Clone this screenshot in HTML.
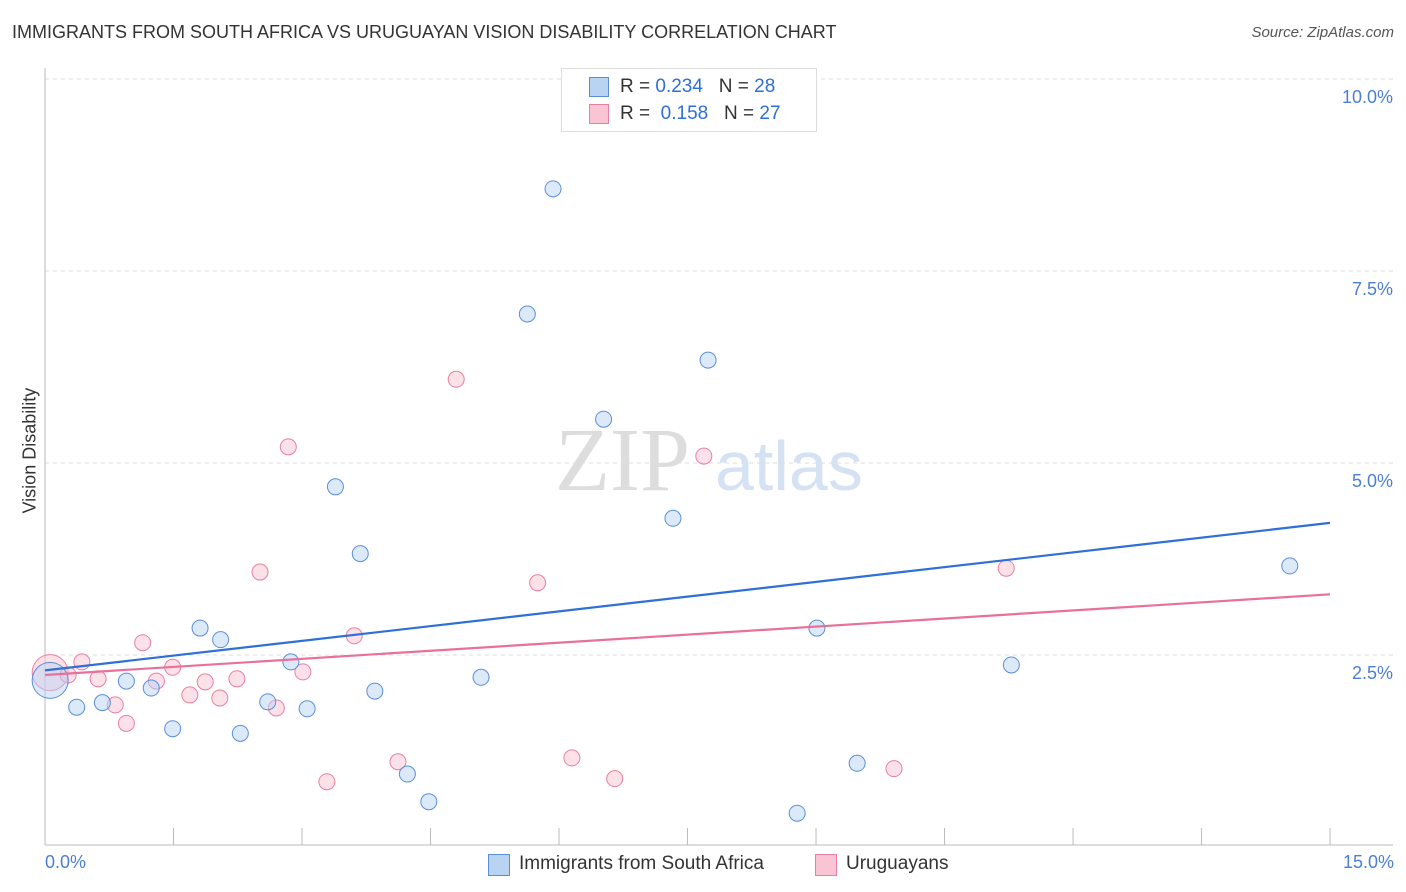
<!DOCTYPE html>
<html><head><meta charset="utf-8">
<style>
body{margin:0;background:#fff;font-family:"Liberation Sans",sans-serif;}
#c{position:absolute;left:0;top:0;}
.t{position:absolute;white-space:nowrap;}
</style></head>
<body>
<div class="t" style="left:12px;top:22px;font-size:18px;color:#333;">IMMIGRANTS FROM SOUTH AFRICA VS URUGUAYAN VISION DISABILITY CORRELATION CHART</div>
<div class="t" style="right:12px;top:24px;font-size:15px;color:#555;font-style:italic;">Source: ZipAtlas.com</div>
<svg id="c" width="1406" height="892"></svg>
<script>
const blueX=[0.06,0.37,0.67,0.95,1.24,1.49,1.81,2.05,2.28,2.60,2.87,3.06,3.39,3.68,3.85,4.23,4.48,5.09,5.63,5.93,6.52,7.33,7.74,8.78,9.01,9.48,11.28,14.53];
const blueY=[2.17,1.82,1.88,2.16,2.07,1.54,2.85,2.70,1.48,1.89,2.41,1.80,4.69,3.82,2.03,0.95,0.59,2.21,6.94,8.57,5.57,4.28,6.34,0.44,2.85,1.09,2.37,3.66];
const pinkX=[0.06,0.27,0.43,0.62,0.82,0.95,1.14,1.30,1.49,1.69,1.87,2.04,2.24,2.51,2.70,2.84,3.01,3.29,3.61,4.12,4.80,5.75,6.15,6.65,7.69,9.91,11.22];
const pinkY=[2.27,2.24,2.41,2.19,1.85,1.61,2.66,2.16,2.34,1.98,2.15,1.94,2.19,3.58,1.81,5.21,2.28,0.85,2.75,1.11,6.09,3.44,1.16,0.89,5.09,1.02,3.63];
const blueTrend=[2.30,4.22];
const pinkTrend=[2.24,3.29];
const yTicks=[2.5,5.0,7.5,10.0];
const xTickVals=[1.5,3,4.5,6,7.5,9,10.5,12,13.5,15];
const NS='http://www.w3.org/2000/svg';
const svg=document.getElementById('c');
const X=v=>45+v*85.67;
const Y=v=>847-v*76.8;
function el(tag,a){const e=document.createElementNS(NS,tag);for(const k in a)e.setAttribute(k,a[k]);svg.appendChild(e);return e;}
// watermark
let w=el('text',{x:555,y:490,'font-size':90,fill:'#ddd','font-family':'Liberation Serif'});w.textContent='ZIP';


let w2=el('text',{x:715,y:490,'font-size':70,fill:'#d4e2f4','font-family':'Liberation Sans'});w2.textContent='atlas';


yTicks.forEach(v=>{
 let g=el('line',{x1:45,x2:1393,y1:Y(v),y2:Y(v),stroke:'#ddd','stroke-dasharray':'4,4'});
 
 
 let t=el('text',{x:1393,y:Y(v)+24,'text-anchor':'end','font-size':18,fill:'#4a7fd4'});t.textContent=v.toFixed(1)+'%';
 
 
});
let ax=el('line',{x1:45,x2:45,y1:68,y2:845,stroke:'#bbb'});


let bx=el('line',{x1:45,x2:1393,y1:845,y2:845,stroke:'#bbb'});


xTickVals.forEach(v=>{let l=el('line',{x1:X(v),x2:X(v),y1:828,y2:845,stroke:'#bbb'});
 
 });
function pts(xs,ys,fill,stroke,name){xs.forEach((x,i)=>{let c=el('circle',{cx:X(x),cy:Y(ys[i]),r:i===0?18:8,fill:fill,stroke:stroke,'stroke-width':1,'fill-opacity':0.5});
 
 });}
pts(pinkX,pinkY,'#f9c4d4','#e87fa3','uruguayan-point');
pts(blueX,blueY,'#b9d3f3','#5a8fd8','south-africa-point');
let bl=el('line',{x1:X(0),x2:X(15),y1:Y(blueTrend[0]),y2:Y(blueTrend[1]),stroke:'#2e6fd8','stroke-width':2.2});


let pl=el('line',{x1:X(0),x2:X(15),y1:Y(pinkTrend[0]),y2:Y(pinkTrend[1]),stroke:'#e8709a','stroke-width':2.2});


</script>
<div class="t" style="left:-30px;top:443px;font-size:18px;color:#333;transform:rotate(-90deg);transform-origin:center;width:120px;text-align:center;">Vision Disability</div>
<div class="t" style="left:45px;top:852px;font-size:18px;color:#4a7fd4;">0.0%</div>
<div class="t" style="right:12px;top:852px;font-size:18px;color:#4a7fd4;">15.0%</div>
<div style="position:absolute;left:561px;top:68px;width:254px;height:62px;border:1px solid #ddd;background:#fff;font-size:19px;color:#333;">
 <div style="position:absolute;left:27px;top:8px;width:18px;height:18px;background:#b9d3f3;border:1px solid #5a8fd8;"></div>
 <div class="t" style="left:58px;top:7px;">R = <span style="color:#2e6fd8">0.234</span>&nbsp;&nbsp;&nbsp;N = <span style="color:#2e6fd8">28</span></div>
 <div style="position:absolute;left:27px;top:35px;width:18px;height:18px;background:#f9c4d4;border:1px solid #e87fa3;"></div>
 <div class="t" style="left:58px;top:34px;">R = &nbsp;<span style="color:#2e6fd8">0.158</span>&nbsp;&nbsp;&nbsp;N = <span style="color:#2e6fd8">27</span></div>
</div>
<div style="position:absolute;left:488px;top:853px;font-size:19px;color:#333;">
 <div style="position:absolute;left:0;top:1px;width:20px;height:20px;background:#b9d3f3;border:1px solid #5a8fd8;"></div>
 <div class="t" style="left:31px;top:0;">Immigrants from South Africa</div></div>
<div style="position:absolute;left:815px;top:853px;font-size:19px;color:#333;">
 <div style="position:absolute;left:0;top:1px;width:20px;height:20px;background:#f9c4d4;border:1px solid #e87fa3;"></div>
 <div class="t" style="left:31px;top:0;">Uruguayans</div></div>
</body></html>
